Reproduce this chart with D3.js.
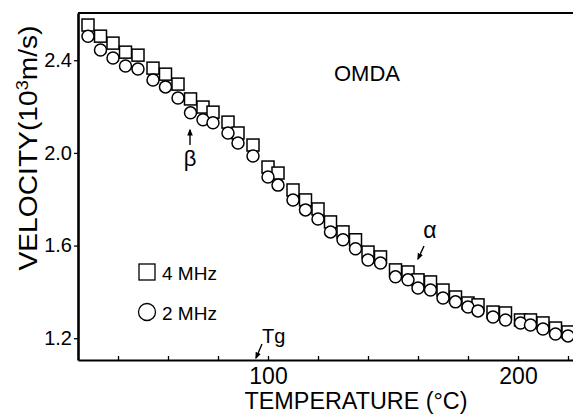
<!DOCTYPE html>
<html>
<head>
<meta charset="utf-8">
<script src="https://cdn.jsdelivr.net/npm/d3@7"></script>
<style>
  body { margin: 0; background: #fff; }
  svg text { font-family: "Liberation Sans", Arial, sans-serif; fill: #000; }
</style>
</head>
<body>
<div id="stage"></div>
<script>
(function(d3) {
    'use strict';

    // temperature (C) of each measurement
    var temps = [28, 33, 38, 43, 48, 54, 59, 64, 69, 74,
        78, 84, 88, 94, 100, 104, 110, 115, 120, 125,
        130, 135, 140, 145, 151, 156, 160, 165, 170, 175,
        180, 184, 190, 195, 201, 205, 210, 215, 220];

    // velocity, 10^3 m/s
    var v4MHz = [2.552, 2.504, 2.474, 2.435, 2.422, 2.366, 2.340, 2.297, 2.233, 2.198,
        2.176, 2.133, 2.086, 2.034, 1.939, 1.913, 1.840, 1.797, 1.758, 1.702,
        1.659, 1.625, 1.572, 1.551, 1.495, 1.486, 1.452, 1.443, 1.408, 1.378,
        1.352, 1.344, 1.313, 1.309, 1.279, 1.279, 1.266, 1.244, 1.227];

    var v2MHz = [2.504, 2.444, 2.410, 2.375, 2.362, 2.315, 2.285, 2.237, 2.173, 2.143,
        2.130, 2.086, 2.043, 1.987, 1.896, 1.861, 1.797, 1.754, 1.715, 1.659,
        1.625, 1.586, 1.538, 1.525, 1.465, 1.452, 1.417, 1.408, 1.374, 1.357,
        1.335, 1.318, 1.292, 1.279, 1.266, 1.257, 1.240, 1.218, 1.210];

    var xTicks = [40, 60, 80, 100, 120, 140, 160, 180, 200, 220],
        xLabels = [100, 200],
        yTicks = [1.2, 1.6, 2.0, 2.4];

    var seriesNames = ['4 MHz', '2 MHz'];

    var width = 573,
        height = 415,
        left = 78,
        top = 13,
        bottom = 360;

    var svg = d3.select('#stage')
        .append('svg')
        .attr('width', width)
        .attr('height', height);

    var x = d3.scaleLinear().domain([24, 222]).range([left, width]);
    var y = d3.scaleLinear().domain([1.106, 2.604]).range([bottom, top]);

    svg.append('clipPath').attr('id', 'plot')
        .append('rect')
        .attr('x', left).attr('y', top)
        .attr('width', width - left).attr('height', bottom - top);

    // bottom axis, ticks pointing inwards
    var xAxis = svg.append('g')
        .attr('transform', 'translate(0,' + bottom + ')')
        .call(d3.axisBottom(x)
            .tickValues(xTicks)
            .tickSizeInner(-4)
            .tickSizeOuter(0)
            .tickPadding(7)
            .tickFormat(function(d) { return xLabels.indexOf(d) >= 0 ? d : ''; }));
    xAxis.select('.domain').attr('stroke-width', 2.2);
    xAxis.selectAll('.tick line').attr('stroke-width', 1.3);
    xAxis.selectAll('.tick text')
        .attr('font-size', 23)
        .attr('dy', '0.75em')
        .style('font-family', '"Liberation Sans", Arial, sans-serif');

    var yAxis = svg.append('g')
        .attr('transform', 'translate(' + left + ',0)')
        .call(d3.axisLeft(y)
            .tickValues(yTicks)
            .tickSizeInner(4)
            .tickSizeOuter(0)
            .tickPadding(2)
            .tickFormat(d3.format('.1f')));
    yAxis.select('.domain').attr('stroke-width', 2.6);
    yAxis.selectAll('.tick line').attr('stroke-width', 1.3);
    yAxis.selectAll('.tick text')
        .attr('font-size', 20)
        .style('font-family', '"Liberation Sans", Arial, sans-serif');

    // top frame line
    svg.append('line')
        .attr('x1', left).attr('x2', width)
        .attr('y1', top).attr('y2', top)
        .attr('stroke', '#000').attr('stroke-width', 2.2);

    var marks = svg.append('g').attr('clip-path', 'url(#plot)');

    marks.selectAll('.sq')
        .data(temps)
        .enter()
        .append('rect')
        .attr('class', 'sq')
        .attr('x', function(d) { return x(d) - 6; })
        .attr('y', function(d, i) { return y(v4MHz[i]) - 6; })
        .attr('width', 12)
        .attr('height', 12)
        .style('fill', '#fff')
        .style('stroke', '#000')
        .style('stroke-width', 1.5);

    marks.selectAll('.ci')
        .data(temps)
        .enter()
        .append('circle')
        .attr('class', 'ci')
        .attr('cx', function(d) { return x(d); })
        .attr('cy', function(d, i) { return y(v2MHz[i]); })
        .attr('r', 6)
        .style('fill', '#fff')
        .style('stroke', '#000')
        .style('stroke-width', 1.5);

    // legend
    var legend = svg.append('g');
    legend.append('rect')
        .attr('x', 139).attr('y', 264)
        .attr('width', 16).attr('height', 16)
        .style('fill', '#fff').style('stroke', '#000').style('stroke-width', 1.3);
    legend.append('circle')
        .attr('cx', 147).attr('cy', 312).attr('r', 8.5)
        .style('fill', '#fff').style('stroke', '#000').style('stroke-width', 1.3);
    legend.selectAll('text')
        .data(seriesNames)
        .enter()
        .append('text')
        .attr('x', 162)
        .attr('y', function(d, i) { return 280 + i * 40; })
        .attr('font-size', 19)
        .text(function(d) { return d; });

    svg.append('text')
        .attr('x', 367).attr('y', 81)
        .attr('text-anchor', 'middle')
        .attr('font-size', 22)
        .text('OMDA');

    // beta marker
    svg.append('defs').append('marker')
        .attr('id', 'head')
        .attr('viewBox', '0 0 10 10')
        .attr('refX', 8).attr('refY', 5)
        .attr('markerWidth', 5).attr('markerHeight', 5)
        .attr('orient', 'auto')
        .append('path')
        .attr('d', 'M0,1 L10,5 L0,9 Z')
        .style('fill', '#000');

    svg.append('line')
        .attr('x1', x(68.8)).attr('y1', 145)
        .attr('x2', x(68.8)).attr('y2', 130)
        .attr('stroke', '#000').attr('stroke-width', 1.4)
        .attr('marker-end', 'url(#head)');
    svg.append('text')
        .attr('x', x(68.8)).attr('y', 166)
        .attr('text-anchor', 'middle')
        .attr('font-size', 22)
        .text('β');

    svg.append('line')
        .attr('x1', 424).attr('y1', 246)
        .attr('x2', 418).attr('y2', 259)
        .attr('stroke', '#000').attr('stroke-width', 1.4)
        .attr('marker-end', 'url(#head)');
    svg.append('text')
        .attr('x', 430).attr('y', 238)
        .attr('text-anchor', 'middle')
        .attr('font-size', 23)
        .text('α');

    svg.append('line')
        .attr('x1', 262).attr('y1', 344)
        .attr('x2', x(95.2)).attr('y2', 358)
        .attr('stroke', '#000').attr('stroke-width', 1.4)
        .attr('marker-end', 'url(#head)');
    svg.append('text')
        .attr('x', 262).attr('y', 343)
        .attr('font-size', 20)
        .text('Tg');

    // axis titles
    svg.append('text')
        .attr('x', 356).attr('y', 409)
        .attr('text-anchor', 'middle')
        .attr('font-size', 23)
        .attr('textLength', 223)
        .attr('lengthAdjust', 'spacingAndGlyphs')
        .text('TEMPERATURE (°C)');

    var yTitle = svg.append('text')
        .attr('transform', 'translate(37,148) rotate(-90)')
        .attr('text-anchor', 'middle')
        .attr('font-size', 25)
        .attr('textLength', 245)
        .attr('lengthAdjust', 'spacingAndGlyphs');
    yTitle.append('tspan').text('VELOCITY(10');
    yTitle.append('tspan').attr('dy', -9).attr('font-size', 16).text('3');
    yTitle.append('tspan').attr('dy', 9).text('m/s)');

})(window.d3);
</script>
</body>
</html>
